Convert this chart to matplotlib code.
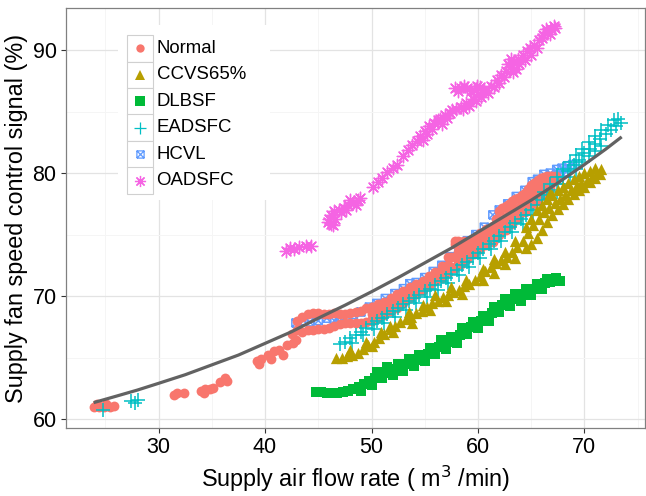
import matplotlib
matplotlib.use('Agg')
import matplotlib.pyplot as plt
from matplotlib.path import Path
from matplotlib.lines import Line2D
from matplotlib.patches import Rectangle

plt.rcParams['font.family'] = ['Liberation Sans', 'DejaVu Sans']

# ---------------- data ----------------
series_names = ["Normal", "CCVS65%", "DLBSF", "EADSFC", "HCVL", "OADSFC"]
series_colors = ["#F8766D", "#B79F00", "#00BA38", "#00BFC4", "#619CFF", "#F564E3"]

normal_x = [23.9, 24.4, 24.9, 25.4, 25.8, 24.2, 25.1,
            31.4, 31.7, 32.4,
            34.0, 34.4, 34.8, 35.1, 34.3,
            35.8, 36.2, 36.4,
            39.2, 39.6, 39.4,
            40.3, 40.8, 41.3, 41.7, 40.6,
            42.1, 42.6, 42.9,
            43.0, 43.5, 44.0, 44.5, 45.0, 45.5, 46.0, 46.5, 47.0, 47.5, 48.0, 48.5, 49.0, 49.5, 50.0,
            42.5, 43.0, 43.5, 44.0, 44.5, 45.0, 45.5, 46.0, 46.5, 47.0, 47.5, 48.0, 48.5, 49.0, 49.5, 50.0,
            50.0, 50.0, 50.0, 50.6, 50.6, 50.6, 51.2, 51.2, 51.2, 51.8, 51.8, 51.8,
            52.4, 52.4, 52.4, 53.0, 53.0, 53.0, 53.6, 53.6, 53.6, 54.2, 54.2, 54.2,
            54.8, 54.8, 54.8, 55.4, 55.4, 55.4, 56.0, 56.0, 56.0, 56.6, 56.6, 56.6,
            57.2, 57.2, 57.2, 57.8, 57.8, 57.8, 57.8, 58.4, 58.4, 58.4, 59.0, 59.0, 59.0,
            59.6, 59.6, 59.6, 60.2, 60.2, 60.2, 60.8, 60.8, 60.8, 61.4, 61.4, 61.4,
            62.0, 62.0, 62.0, 62.6, 62.6, 62.6, 63.2, 63.2, 63.2, 63.8, 63.8, 63.8,
            64.4, 64.4, 64.4, 65.0, 65.0, 65.0, 65.6, 65.6, 65.6, 66.2, 66.2, 66.2,
            66.8, 66.8, 66.8, 67.3, 67.3,
            50.3, 50.3, 50.9, 50.9, 51.5, 51.5, 52.1, 52.1, 52.7, 52.7, 53.3, 53.3,
            53.9, 53.9, 54.5, 54.5, 55.1, 55.1, 55.7, 55.7, 56.3, 56.3, 56.9, 56.9,
            57.5, 57.5, 58.1, 58.1, 58.1, 58.7, 58.7, 58.7, 59.3, 59.3, 59.9, 59.9,
            60.5, 60.5, 61.1, 61.1, 61.7, 61.7, 61.7, 62.3, 62.3, 62.3, 62.9, 62.9, 62.9,
            63.5, 63.5, 63.5, 64.1, 64.1, 64.1, 64.7, 64.7, 64.7, 65.3, 65.3, 65.3,
            65.9, 65.9, 65.9, 66.5, 66.5, 66.5, 67.0, 67.0]
normal_y = [61.0, 60.95, 61.0, 60.95, 61.05, 61.2, 61.2,
            61.95, 62.1, 62.1,
            62.25, 62.45, 62.4, 62.55, 62.1,
            63.0, 63.3, 63.1,
            64.7, 64.9, 64.5,
            65.2, 65.5, 65.6, 65.2, 64.9,
            66.0, 66.2, 66.4,
            68.0, 68.3, 68.5, 68.6, 68.6, 68.5, 68.5, 68.6, 68.5, 68.5, 68.6, 68.7, 68.8, 69.0, 69.1,
            66.9, 67.2, 67.1, 67.2, 67.2, 67.3, 67.3, 67.4, 67.6, 67.7, 67.8, 67.8, 67.8, 67.8, 67.9, 68.1,
            67.95, 68.55, 69.15, 68.2, 68.8, 69.35, 68.45, 69.0, 69.55, 68.75, 69.3, 69.85,
            69.05, 69.6, 70.15, 69.45, 69.95, 70.45, 69.85, 70.3, 70.7, 70.2, 70.6, 70.95,
            70.5, 70.9, 71.25, 70.85, 71.25, 71.6, 71.2, 71.6, 71.95, 71.5, 72.0, 72.45,
            71.85, 72.5, 73.15, 72.25, 73.2, 74.2, 74.5, 72.6, 73.5, 74.4, 73.0, 73.8, 74.3,
            73.45, 74.1, 74.7, 73.85, 74.5, 75.1, 74.15, 74.8, 75.45, 74.4, 75.1, 75.7,
            74.95, 75.9, 76.9, 75.4, 76.4, 77.3, 75.9, 76.8, 77.7, 76.35, 77.2, 78.0,
            76.85, 77.6, 78.4, 77.35, 78.2, 79.0, 77.75, 78.6, 79.45, 78.25, 79.0, 79.65,
            78.75, 79.3, 79.75, 79.5, 79.75,
            68.3, 68.9, 68.5, 69.1, 68.8, 69.4, 69.1, 69.7, 69.45, 70.0, 69.8, 70.3,
            70.2, 70.6, 70.5, 70.9, 70.8, 71.2, 71.2, 71.5, 71.5, 71.9, 71.9, 72.4,
            72.4, 73.2, 72.7, 73.6, 74.5, 73.1, 74.0, 74.5, 73.5, 74.2, 73.9, 74.6,
            74.2, 74.9, 74.5, 75.2, 74.9, 75.6, 76.3, 75.4, 76.2, 77.2, 75.9, 76.7, 77.5,
            76.3, 77.1, 77.9, 76.8, 77.5, 78.2, 77.3, 78.0, 78.7, 77.8, 78.5, 79.2,
            78.3, 78.9, 79.6, 78.8, 79.3, 79.8, 79.3, 79.8]

ccvs_x = [46.7, 47.2, 47.7, 48.2, 48.7, 49.2, 49.7, 50.2, 50.7, 51.2, 51.7, 52.2, 52.7, 53.2,
          53.7, 54.2, 54.7, 55.2, 55.7, 56.2, 56.7, 57.2, 57.7, 58.2, 58.7, 59.2, 59.7,
          48.0, 49.5, 50.9, 51.7, 53.5, 54.8, 56.0, 57.5, 58.9,
          50.0, 52.0, 53.8, 55.5, 57.0, 58.5,
          60.2, 60.7, 61.2, 61.7, 62.2, 62.7, 63.2, 63.7, 64.2, 64.7, 65.2, 65.7, 66.2, 66.7,
          67.2, 67.7, 68.2, 68.7, 69.2, 69.7, 70.2, 70.7, 71.2, 71.6,
          60.5, 61.5, 62.5, 63.5, 64.5, 65.0, 65.5, 66.0, 66.5, 67.0, 67.5, 68.0, 68.5, 69.0,
          69.5, 70.0, 70.5, 71.0,
          60.5, 61.5, 62.5, 63.5, 64.5, 65.0, 65.5, 66.0, 66.5, 67.0, 67.5, 68.0, 68.5, 69.0,
          69.5, 70.0, 70.5, 71.0, 71.5,
          66.8]
ccvs_y = [65.0, 65.0, 65.1, 65.2, 65.4, 65.7, 66.0, 66.3, 66.6, 66.9, 67.3, 67.6, 67.9, 68.1,
          68.3, 68.6, 68.8, 69.1, 69.4, 69.6, 69.9, 70.1, 70.3, 70.5, 70.8, 71.0, 71.3,
          65.6, 66.3, 67.1, 67.6, 68.7, 69.3, 70.1, 70.7, 71.3,
          65.9, 67.1, 67.8, 68.9, 69.6, 70.2,
          71.6, 72.0, 72.4, 72.7, 72.9, 73.2, 73.6, 74.0, 74.5, 75.1, 75.8, 76.3, 76.8, 77.2,
          77.6, 77.9, 78.2, 78.6, 78.9, 79.2, 79.4, 79.7, 80.0, 80.3,
          72.2, 73.0, 73.6, 74.5, 75.6, 76.3, 77.0, 77.4, 77.9, 78.2, 78.6, 78.9, 79.2, 79.5,
          79.8, 80.0, 80.2, 80.4,
          71.3, 71.9, 72.6, 73.1, 73.9, 74.2, 74.7, 75.4, 76.0, 76.6, 77.1, 77.5, 77.9, 78.3,
          78.6, 78.9, 79.3, 79.6, 79.9,
          78.4]

dlbsf_x = [44.8, 45.3, 45.8, 46.3, 46.8, 47.3, 47.8, 48.3, 48.8, 49.3, 49.8, 50.3, 50.8, 51.3,
           51.8, 52.3, 52.8, 53.3, 53.8, 54.3, 54.8, 55.3, 55.8, 56.3, 56.8, 57.3, 57.8, 58.3,
           58.8, 59.3, 59.8, 60.3, 60.8, 61.3, 61.8, 62.3, 62.8, 63.3, 63.8, 64.3, 64.8, 65.3,
           65.8, 66.3, 66.8, 67.3, 67.7,
           49.0, 50.0, 51.0, 52.0, 53.0, 54.0, 55.0, 56.0, 57.0, 58.0, 59.0, 60.0, 61.0, 62.0,
           63.0, 64.0, 65.0, 66.0,
           50.5, 51.5, 52.5, 53.5, 54.5, 55.5, 56.5, 57.5, 58.5, 59.5, 60.5, 61.5, 62.5, 63.5,
           64.5, 65.5, 66.5, 67.3]
dlbsf_y = [62.2, 62.2, 62.15, 62.1, 62.15, 62.2, 62.3, 62.4, 62.6, 62.85, 63.1, 63.35, 63.6, 63.75,
           63.9, 64.1, 64.3, 64.45, 64.6, 64.8, 65.0, 65.3, 65.6, 65.85, 66.1, 66.3, 66.5, 66.8,
           67.2, 67.5, 67.8, 68.0, 68.3, 68.6, 69.0, 69.3, 69.6, 69.8, 70.0, 70.2, 70.4, 70.6,
           70.9, 71.05, 71.15, 71.2, 71.2,
           62.3, 62.8, 63.3, 63.6, 63.9, 64.3, 64.7, 65.3, 65.7, 66.2, 66.9, 67.4, 68.0, 68.7,
           69.2, 69.6, 70.1, 70.6,
           63.8, 64.2, 64.5, 64.9, 65.2, 65.8, 66.4, 66.7, 67.4, 67.9, 68.4, 69.1, 69.8, 70.2,
           70.6, 71.0, 71.4, 71.5]

eadsfc_x = [24.8, 27.4, 27.8, 28.1,
            47.0, 47.5, 48.0, 48.5, 49.0, 49.5, 50.0, 50.5, 51.0, 51.5, 52.0, 52.5, 53.0, 53.5,
            54.0, 54.5, 55.0, 55.5, 56.0, 56.5, 57.0, 57.5, 58.0, 58.5, 59.0, 59.5, 60.0, 60.5,
            61.0, 61.5, 62.0, 62.5, 63.0, 63.5, 64.0, 64.5, 65.0, 65.5, 66.0, 66.5, 67.0, 67.5,
            68.0, 68.5, 69.0, 69.5, 70.0, 70.5, 71.0, 71.5, 72.0, 72.5, 73.0, 73.4,
            48.2, 49.2, 50.2, 51.2, 52.2, 53.2, 54.2, 55.2, 56.2, 57.2, 58.2, 59.2, 60.2, 61.2,
            62.2, 63.2, 64.2, 65.2,
            66.2, 66.8, 67.4, 68.0, 68.6, 69.2, 69.8, 70.4, 71.0, 71.6, 72.2, 72.8, 73.2,
            66.8, 67.4, 68.0, 68.6, 69.2, 69.8, 70.4, 71.0, 71.6]
eadsfc_y = [60.75, 61.5, 61.3, 61.55,
            66.1, 66.3, 66.6, 66.8, 67.1, 67.4, 67.7, 67.95, 68.2, 68.5, 68.75, 69.05, 69.35, 69.6,
            69.85, 70.1, 70.4, 70.6, 70.9, 71.2, 71.45, 71.8, 72.1, 72.5, 72.8, 73.1, 73.5, 73.8,
            74.2, 74.5, 74.9, 75.2, 75.6, 75.95, 76.3, 76.6, 77.0, 77.4, 77.8, 78.2, 78.6, 79.1,
            79.7, 80.2, 80.7, 81.1, 81.6, 82.0, 82.4, 82.8, 83.2, 83.5, 83.8, 84.1,
            66.2, 66.8, 67.3, 67.8, 68.3, 68.9, 69.4, 69.9, 70.5, 71.1, 71.7, 72.4, 73.1, 73.8,
            74.5, 75.2, 75.9, 76.6,
            78.5, 79.1, 79.7, 80.3, 80.9, 81.5, 82.0, 82.5, 83.0, 83.5, 83.9, 84.3, 84.4,
            77.9, 78.5, 79.1, 79.7, 80.3, 80.9, 81.4, 81.8, 82.2]

hcvl_x = [42.9, 43.6, 44.2, 45.0, 45.8, 46.5, 47.0, 47.5, 48.3, 49.0, 49.8, 50.5, 51.3, 52.2,
          53.0, 53.6, 54.2, 55.0, 55.8, 56.6, 57.4, 58.2, 59.0, 59.8, 60.6, 61.4, 62.0, 62.8,
          63.6, 64.4, 65.1, 65.6, 66.2, 66.8, 67.4, 67.9, 68.4, 68.9, 68.3, 67.7]
hcvl_y = [67.8, 68.0, 67.9, 68.0, 68.2, 68.0, 68.3, 68.2, 68.5, 68.7, 69.1, 69.4, 69.8, 70.2,
          70.6, 71.0, 71.1, 71.5, 72.0, 72.5, 73.2, 73.9, 74.5, 75.0, 75.6, 76.6, 77.0, 77.5,
          78.1, 78.6, 79.3, 79.5, 79.9, 80.0, 80.3, 80.4, 80.6, 80.7, 80.1, 79.9]

oadsfc_x = [42.0, 42.3, 42.7, 43.2, 43.8, 44.3,
            45.9, 46.2, 46.5, 46.6, 46.9, 47.4, 47.8, 48.3, 48.7, 46.2,
            46.0, 46.4, 47.1, 47.6, 48.0, 48.5, 48.9,
            50.1, 50.6, 51.0, 51.5, 52.0, 52.4,
            53.0, 53.4, 53.8, 54.3,
            54.6, 55.0, 55.4, 55.9, 56.4, 56.9, 57.4, 57.9,
            54.8, 55.2, 55.7, 56.2, 56.6, 57.1, 57.6,
            58.4, 58.9, 59.5, 60.0, 60.6, 61.2, 61.8, 62.2,
            58.6, 59.2, 59.8, 60.3, 60.9, 61.5, 62.0,
            57.8, 58.4, 59.0, 59.6, 60.2, 58.1, 58.7, 59.3, 59.9,
            62.6, 63.0, 63.4, 63.8, 64.2, 64.6, 63.1, 63.6,
            62.4, 62.8, 63.3, 63.9, 64.4, 64.9, 65.0,
            65.3, 65.7, 66.1, 66.5, 66.9, 67.2,
            65.5, 66.0, 66.4, 66.8, 67.1]
oadsfc_y = [73.7, 73.9, 73.8, 74.0, 74.1, 74.1,
            76.0, 76.6, 76.9, 76.3, 77.0, 77.2, 77.4, 77.6, 77.8, 75.9,
            76.3, 75.8, 76.8, 77.0, 77.8, 77.4, 78.0,
            78.9, 79.3, 79.6, 80.1, 80.4, 80.7,
            81.4, 81.9, 82.3, 82.6,
            83.0, 83.4, 83.8, 84.1, 84.4, 84.7, 84.9, 85.2,
            82.7, 83.2, 83.6, 84.3, 84.0, 84.5, 85.1,
            85.4, 85.7, 86.0, 86.4, 86.8, 87.1, 87.6, 88.0,
            85.2, 85.5, 85.9, 86.2, 86.5, 87.0, 87.3,
            86.9, 86.9, 86.9, 86.8, 87.0, 86.7, 87.1, 86.7, 87.1,
            88.3, 88.6, 89.0, 89.3, 89.6, 89.9, 89.3, 88.5,
            87.8, 88.9, 88.2, 88.9, 89.2, 90.2, 89.6,
            90.4, 90.8, 91.2, 91.5, 91.7, 91.8,
            90.2, 91.0, 91.7, 91.3, 92.0]

fit_x = [23.9, 26.0, 28.0, 30.0, 32.5, 35.0, 37.5, 40.0, 42.5, 45.0, 47.5, 50.0, 52.5,
         55.0, 57.5, 60.0, 62.5, 65.0, 67.5, 70.0, 72.0, 73.5]
fit_y = [61.33, 61.85, 62.35, 62.9, 63.6, 64.4, 65.2, 66.15, 67.1, 68.2, 69.25, 70.35, 71.5,
         72.7, 73.9, 75.2, 76.5, 77.8, 79.2, 80.7, 81.95, 82.95]

x_ticks = [30, 40, 50, 60, 70]
y_ticks = [60, 70, 80, 90]

# ---------------- figure ----------------
W, H = 646, 496
fig = plt.figure(figsize=(W / 100, H / 100), dpi=100)
fig.patch.set_facecolor('white')
ax = fig.add_axes([66.3 / W, 1 - 427.7 / H, (645 - 66.3) / W, (427.7 - 8.3) / H])

box_x_path = Path([(-1, -1), (1, -1), (1, 1), (-1, 1), (-1, -1), (-1, -1), (1, 1), (-1, 1), (1, -1)],
                  [Path.MOVETO, Path.LINETO, Path.LINETO, Path.LINETO, Path.LINETO,
                   Path.MOVETO, Path.LINETO, Path.MOVETO, Path.LINETO])

styles = {
    "Normal":  dict(marker='o', s=50, kind='filled'),
    "CCVS65%": dict(marker='^', s=66, kind='filled'),
    "DLBSF":   dict(marker='s', s=52, kind='filled'),
    "EADSFC":  dict(marker='+', s=90, kind='line', lw=1.1),
    "HCVL":    dict(marker=box_x_path, s=34, kind='open', lw=1.1),
    "OADSFC":  dict(marker=(8, 2, 0), s=80, kind='line', lw=1.0),
}

data = {
    "Normal": (normal_x, normal_y),
    "CCVS65%": (ccvs_x, ccvs_y),
    "DLBSF": (dlbsf_x, dlbsf_y),
    "EADSFC": (eadsfc_x, eadsfc_y),
    "HCVL": (hcvl_x, hcvl_y),
    "OADSFC": (oadsfc_x, oadsfc_y),
}
zorders = {"HCVL": 2, "Normal": 3, "EADSFC": 4, "CCVS65%": 5, "DLBSF": 5, "OADSFC": 5}

for name, col in zip(series_names, series_colors):
    xs, ys = data[name]
    st = styles[name]
    if st['kind'] == 'filled':
        ax.scatter(xs, ys, marker=st['marker'], s=st['s'], color=col, linewidths=0,
                   zorder=zorders[name])
    elif st['kind'] == 'open':
        ax.scatter(xs, ys, marker=st['marker'], s=st['s'], facecolors='none', edgecolors=col,
                   linewidths=st['lw'], zorder=zorders[name])
    else:
        ax.scatter(xs, ys, marker=st['marker'], s=st['s'], color=col, linewidths=st['lw'],
                   zorder=zorders[name])

ax.plot(fit_x, fit_y, color='#626262', lw=2.3, zorder=6, solid_capstyle='butt')

ax.set_xlim(21.33, 75.69)
ax.set_ylim(59.29, 93.41)
ax.set_xticks(x_ticks)
ax.set_yticks(y_ticks)
ax.set_xticks([25, 35, 45, 55, 65, 75], minor=True)
ax.set_yticks([65, 75, 85], minor=True)
ax.tick_params(which='major', length=3.6, width=0.8, color='#333333', labelsize=15.5,
               labelcolor='black', pad=3.4)
ax.tick_params(which='minor', length=0)
ax.grid(which='major', color='#E3E3E3', lw=0.9, zorder=0)
ax.grid(which='minor', color='#F5F5F5', lw=0.7, zorder=0)
ax.set_axisbelow(True)
for sp in ax.spines.values():
    sp.set_color('#808080')
    sp.set_linewidth(0.9)

ax.set_xlabel('Supply air flow rate ( m$^3$ /min)', fontsize=16.8, labelpad=4)
ax.set_ylabel('Supply fan speed control signal (%)', fontsize=16.8, labelpad=3)

# ---------------- legend (ggplot-like, inside panel) ----------------
def fx(px):
    return px / W

def fy(py):
    return 1 - py / H

fig.add_artist(Rectangle((fx(118), fy(200)), fx(270) - fx(118), fy(25) - fy(200),
                         transform=fig.transFigure, facecolor='white', edgecolor='none', zorder=3))
key_w = 26.5
key_top = 35.0
legend_ms = {"Normal": 6.0, "CCVS65%": 7.0, "DLBSF": 6.5, "EADSFC": 8.5, "HCVL": 5.2, "OADSFC": 8.0}
for i, (name, col) in enumerate(zip(series_names, series_colors)):
    top = key_top + i * key_w
    fig.add_artist(Rectangle((fx(126.7), fy(top + key_w)), key_w / W, key_w / H,
                             transform=fig.transFigure, facecolor='white',
                             edgecolor='#D0D0D0', lw=0.8, zorder=4))
    cy = top + key_w / 2
    st = styles[name]
    ms = legend_ms[name]
    if st['kind'] == 'filled':
        h = Line2D([fx(140)], [fy(cy)], marker=st['marker'], markersize=ms, color=col,
                   markeredgewidth=0, ls='', transform=fig.transFigure, zorder=5)
    elif st['kind'] == 'open':
        h = Line2D([fx(140)], [fy(cy)], marker=st['marker'], markersize=ms, color=col,
                   markerfacecolor='none', markeredgecolor=col, markeredgewidth=0.9,
                   ls='', transform=fig.transFigure, zorder=5)
    else:
        h = Line2D([fx(140)], [fy(cy)], marker=st['marker'], markersize=ms, color=col,
                   markeredgewidth=0.9, ls='', transform=fig.transFigure, zorder=5)
    fig.add_artist(h)
    fig.text(fx(156.5), fy(cy), name, fontsize=13.4, va='center', ha='left', zorder=5)

fig.savefig('out.png', dpi=100, facecolor='white')
